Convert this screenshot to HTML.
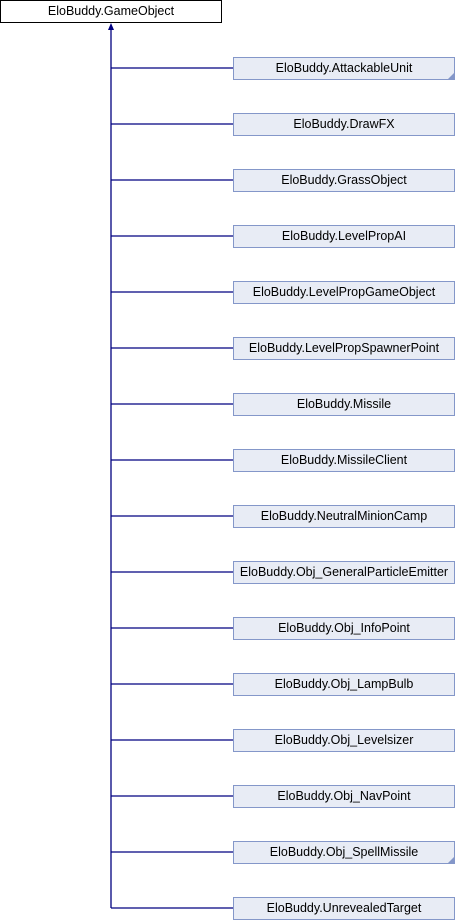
<!DOCTYPE html>
<html><head><style>
body{margin:0;width:456px;height:920px;background:#fff;position:relative;overflow:hidden;font-family:"Liberation Sans",sans-serif;}
.b{position:absolute;left:233px;width:220px;height:21px;border:1px solid #8497c9;background:#e8ecf5;font-size:12.5px;line-height:21px;text-align:center;color:#000;}
.t{position:absolute;left:0;top:0;width:220px;height:21px;border:1px solid #000;background:#fff;font-size:12.5px;line-height:21px;text-align:center;}
.c::after{content:"";position:absolute;right:0;bottom:0;border-style:solid;border-width:0 0 6px 6px;border-color:transparent transparent #8497c9 transparent;}
</style></head><body>
<svg style="position:absolute;left:0;top:0" width="456" height="920">
<g stroke="#000080" stroke-width="1.3" fill="none">
<line x1="111" y1="27" x2="111" y2="908"/>
</g>
<polygon points="111,23 108,30 114,30" fill="#000080"/>
<g stroke="#000080" stroke-width="1.3">
<line x1="111" y1="68" x2="233" y2="68"/><line x1="111" y1="124" x2="233" y2="124"/><line x1="111" y1="180" x2="233" y2="180"/><line x1="111" y1="236" x2="233" y2="236"/><line x1="111" y1="292" x2="233" y2="292"/><line x1="111" y1="348" x2="233" y2="348"/><line x1="111" y1="404" x2="233" y2="404"/><line x1="111" y1="460" x2="233" y2="460"/><line x1="111" y1="516" x2="233" y2="516"/><line x1="111" y1="572" x2="233" y2="572"/><line x1="111" y1="628" x2="233" y2="628"/><line x1="111" y1="684" x2="233" y2="684"/><line x1="111" y1="740" x2="233" y2="740"/><line x1="111" y1="796" x2="233" y2="796"/><line x1="111" y1="852" x2="233" y2="852"/><line x1="111" y1="908" x2="233" y2="908"/>
</g></svg>
<div class="t">EloBuddy.GameObject</div>
<div class="b c" style="top:57px">EloBuddy.AttackableUnit</div>
<div class="b" style="top:113px">EloBuddy.DrawFX</div>
<div class="b" style="top:169px">EloBuddy.GrassObject</div>
<div class="b" style="top:225px">EloBuddy.LevelPropAI</div>
<div class="b" style="top:281px">EloBuddy.LevelPropGameObject</div>
<div class="b" style="top:337px">EloBuddy.LevelPropSpawnerPoint</div>
<div class="b" style="top:393px">EloBuddy.Missile</div>
<div class="b" style="top:449px">EloBuddy.MissileClient</div>
<div class="b" style="top:505px">EloBuddy.NeutralMinionCamp</div>
<div class="b" style="top:561px">EloBuddy.Obj_GeneralParticleEmitter</div>
<div class="b" style="top:617px">EloBuddy.Obj_InfoPoint</div>
<div class="b" style="top:673px">EloBuddy.Obj_LampBulb</div>
<div class="b" style="top:729px">EloBuddy.Obj_Levelsizer</div>
<div class="b" style="top:785px">EloBuddy.Obj_NavPoint</div>
<div class="b c" style="top:841px">EloBuddy.Obj_SpellMissile</div>
<div class="b" style="top:897px">EloBuddy.UnrevealedTarget</div>
</body></html>
